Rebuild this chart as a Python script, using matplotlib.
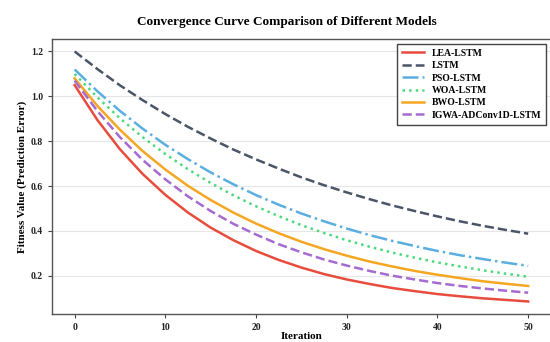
import matplotlib
matplotlib.use("Agg")
import matplotlib.pyplot as plt

plt.rcParams['font.family'] = ['Liberation Serif', 'DejaVu Serif']
plt.rcParams['font.weight'] = 'bold'

iterations = [0, 2.5, 5, 7.5, 10, 12.5, 15, 17.5, 20, 22.5, 25,
              27.5, 30, 32.5, 35, 37.5, 40, 42.5, 45, 47.5, 50]

lea_lstm = [1.050, 0.895, 0.764, 0.654, 0.561, 0.482, 0.415, 0.359, 0.311, 0.271, 0.237,
            0.208, 0.184, 0.164, 0.146, 0.132, 0.119, 0.109, 0.100, 0.093, 0.086]
lstm = [1.200, 1.122, 1.049, 0.983, 0.921, 0.864, 0.812, 0.763, 0.719, 0.678, 0.639,
        0.604, 0.572, 0.542, 0.514, 0.489, 0.465, 0.443, 0.423, 0.405, 0.388]
pso_lstm = [1.120, 1.023, 0.935, 0.856, 0.784, 0.720, 0.661, 0.608, 0.560, 0.517, 0.478,
            0.443, 0.411, 0.382, 0.356, 0.333, 0.311, 0.292, 0.275, 0.259, 0.245]
woa_lstm = [1.100, 0.996, 0.902, 0.818, 0.743, 0.675, 0.614, 0.559, 0.510, 0.466, 0.426,
            0.391, 0.359, 0.330, 0.304, 0.281, 0.260, 0.242, 0.225, 0.210, 0.196]
bwo_lstm = [1.080, 0.958, 0.851, 0.756, 0.674, 0.601, 0.538, 0.482, 0.433, 0.390, 0.352,
            0.319, 0.290, 0.264, 0.242, 0.222, 0.205, 0.190, 0.176, 0.165, 0.155]
igwa_lstm = [1.070, 0.935, 0.818, 0.717, 0.630, 0.554, 0.489, 0.432, 0.384, 0.341, 0.305,
             0.273, 0.246, 0.222, 0.201, 0.184, 0.168, 0.155, 0.144, 0.134, 0.125]

models = ['LEA-LSTM', 'LSTM', 'PSO-LSTM', 'WOA-LSTM', 'BWO-LSTM', 'IGWA-ADConv1D-LSTM']
series = [lea_lstm, lstm, pso_lstm, woa_lstm, bwo_lstm, igwa_lstm]
colors = ['#e74c3c', '#4a5568', '#5aaee0', '#4cd97b', '#f5a623', '#a66bd1']
styles = ['-', '--', '-.', ':', '-', '--']

fig = plt.figure(figsize=(5.5, 3.42), dpi=100)
ax = fig.add_axes([0.0945, 0.082, 0.907, 0.804])

for name, vals, c, ls in zip(models, series, colors, styles):
    ax.plot(iterations, vals, color=c, linestyle=ls, linewidth=1.8, label=name)

ax.set_xticks([0, 10, 20, 30, 40, 50])
ax.set_yticks([0.2, 0.4, 0.6, 0.8, 1.0, 1.2])
ax.tick_params(labelsize=7, length=3, colors='#444444', labelcolor='#222222')
ax.grid(axis='y', color='#e6e6e6', linewidth=0.8)
ax.set_axisbelow(True)
for s in ax.spines.values():
    s.set_color('#555555')
    s.set_linewidth(1.0)

ax.set_xlabel('Iteration', fontsize=8, fontweight='bold', labelpad=0)
ax.set_ylabel('Fitness Value (Prediction Error)', fontsize=8, fontweight='bold', labelpad=3)
fig.text(0.522, 0.935, 'Convergence Curve Comparison of Different Models',
         ha='center', va='center', fontsize=9.5, fontweight='bold')

leg = ax.legend(loc='upper right', fontsize=7, fancybox=False, edgecolor='#444444',
                framealpha=1, borderpad=0.5, labelspacing=0.35, handlelength=2.2)
leg.get_frame().set_linewidth(1.0)

fig.savefig('out.png', dpi=100)
